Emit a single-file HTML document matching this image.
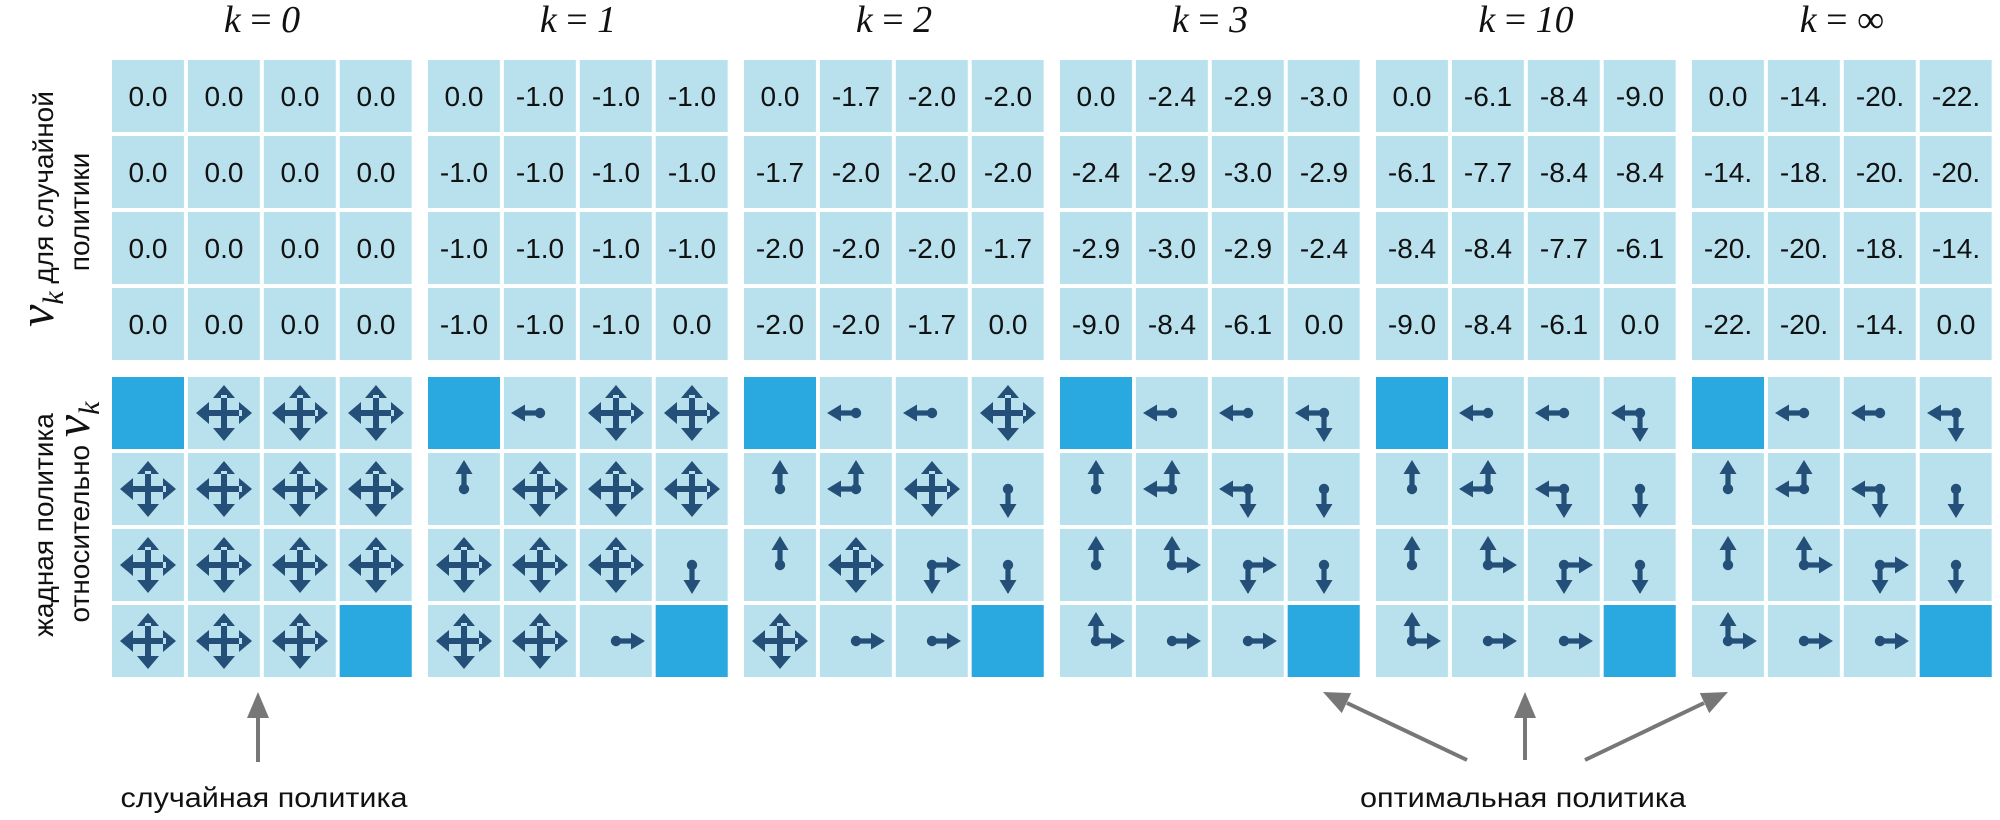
<!DOCTYPE html>
<html><head><meta charset="utf-8"><style>
html,body{margin:0;padding:0;background:#fff;}
svg{display:block;}
.v{font-family:"Liberation Sans",sans-serif;font-size:28px;fill:#111;text-anchor:middle;}
.t{font-family:"Liberation Serif",serif;font-size:38px;fill:#111;text-anchor:middle;}
.lb{font-family:"Liberation Sans","Noto Sans CJK SC",sans-serif;font-size:28px;fill:#111;text-anchor:middle;}
</style></head><body>
<svg width="2000" height="820" viewBox="0 0 2000 820" xmlns="http://www.w3.org/2000/svg">
<defs>
<pattern id="p1" x="0" y="60" width="75.9" height="76" patternUnits="userSpaceOnUse"><rect x="0" y="0" width="72" height="72" fill="#b8e1ed"/></pattern>
<pattern id="p2" x="0" y="377" width="75.9" height="76" patternUnits="userSpaceOnUse"><rect x="0" y="0" width="72" height="72" fill="#b8e1ed"/></pattern>
<g id="hl" fill="#244f78"><path d="M-16,-2.6H0V2.6H-16Z M-29,0 L-15,-8.5 L-15,8.5Z"/></g>
<g id="hr" fill="#244f78"><path d="M16,-2.6H0V2.6H16Z M29,0 L15,-8.5 L15,8.5Z"/></g>
<g id="hu" fill="#244f78"><path d="M-2.6,-16V0H2.6V-16Z M0,-29 L-8.5,-15 L8.5,-15Z"/></g>
<g id="hd" fill="#244f78"><path d="M-2.6,16V0H2.6V16Z M0,29 L-8.5,15 L8.5,15Z"/></g>
<circle id="dt" r="5.2" fill="#244f78"/>
<g id="L"><use href="#hl"/><use href="#dt"/></g>
<g id="R"><use href="#hr"/><use href="#dt"/></g>
<g id="U"><use href="#hu"/><use href="#dt"/></g>
<g id="D"><use href="#hd"/><use href="#dt"/></g>
<g id="LU"><use href="#hl"/><use href="#hu"/><use href="#dt"/></g>
<g id="LD"><use href="#hl"/><use href="#hd"/><use href="#dt"/></g>
<g id="UR"><use href="#hu"/><use href="#hr"/><use href="#dt"/></g>
<g id="RD"><use href="#hr"/><use href="#hd"/><use href="#dt"/></g>
<g id="A" fill="#244f78"><path d="M-18,-3H18V3H-18Z M-3,-18H3V18H-3Z M-28,0L-15,-11L-15,11Z M28,0L15,-11L15,11Z M0,-28L-11,-15L11,-15Z M0,28L-11,15L11,15Z"/></g>
</defs>

<text class="t" x="262" y="32"><tspan font-style="italic">k</tspan> = <tspan font-style="italic">0</tspan></text>
<text class="t" x="578" y="32"><tspan font-style="italic">k</tspan> = <tspan font-style="italic">1</tspan></text>
<text class="t" x="894" y="32"><tspan font-style="italic">k</tspan> = <tspan font-style="italic">2</tspan></text>
<text class="t" x="1210" y="32"><tspan font-style="italic">k</tspan> = <tspan font-style="italic">3</tspan></text>
<text class="t" x="1526" y="32"><tspan font-style="italic">k</tspan> = <tspan font-style="italic">10</tspan></text>
<text class="t" x="1842" y="32"><tspan font-style="italic">k</tspan> = ∞</text>

<text class="lb" transform="translate(53,209) rotate(-90)"><tspan font-family="Liberation Serif,serif" font-style="italic" font-size="50">v</tspan><tspan font-family="Liberation Serif,serif" font-style="italic" font-size="30" dy="10">k</tspan><tspan dy="-10"> для случайной</tspan></text>
<text class="lb" transform="translate(89,212) rotate(-90)">политики</text>
<text class="lb" transform="translate(53,525) rotate(-90)">жадная политика</text>
<text class="lb" transform="translate(89,512) rotate(-90)">относительно <tspan font-family="Liberation Serif,serif" font-style="italic" font-size="50">v</tspan><tspan font-family="Liberation Serif,serif" font-style="italic" font-size="30" dy="10">k</tspan></text>

<g transform="translate(112,0)"><rect x="0" y="60" width="300" height="300" fill="url(#p1)"/><rect x="0" y="377" width="300" height="300" fill="url(#p2)"/></g>
<g transform="translate(428,0)"><rect x="0" y="60" width="300" height="300" fill="url(#p1)"/><rect x="0" y="377" width="300" height="300" fill="url(#p2)"/></g>
<g transform="translate(744,0)"><rect x="0" y="60" width="300" height="300" fill="url(#p1)"/><rect x="0" y="377" width="300" height="300" fill="url(#p2)"/></g>
<g transform="translate(1060,0)"><rect x="0" y="60" width="300" height="300" fill="url(#p1)"/><rect x="0" y="377" width="300" height="300" fill="url(#p2)"/></g>
<g transform="translate(1376,0)"><rect x="0" y="60" width="300" height="300" fill="url(#p1)"/><rect x="0" y="377" width="300" height="300" fill="url(#p2)"/></g>
<g transform="translate(1692,0)"><rect x="0" y="60" width="300" height="300" fill="url(#p1)"/><rect x="0" y="377" width="300" height="300" fill="url(#p2)"/></g>

<g fill="#29a9e0">
<rect x="112" y="377" width="72" height="72"/><rect x="339.7" y="605" width="72" height="72"/>
<rect x="428" y="377" width="72" height="72"/><rect x="655.7" y="605" width="72" height="72"/>
<rect x="744" y="377" width="72" height="72"/><rect x="971.7" y="605" width="72" height="72"/>
<rect x="1060" y="377" width="72" height="72"/><rect x="1287.7" y="605" width="72" height="72"/>
<rect x="1376" y="377" width="72" height="72"/><rect x="1603.7" y="605" width="72" height="72"/>
<rect x="1692" y="377" width="72" height="72"/><rect x="1919.7" y="605" width="72" height="72"/>
</g>

<g class="v" transform="translate(112,0)">
<text x="36" y="106">0.0</text><text x="112" y="106">0.0</text><text x="188" y="106">0.0</text><text x="264" y="106">0.0</text>
<text x="36" y="182">0.0</text><text x="112" y="182">0.0</text><text x="188" y="182">0.0</text><text x="264" y="182">0.0</text>
<text x="36" y="258">0.0</text><text x="112" y="258">0.0</text><text x="188" y="258">0.0</text><text x="264" y="258">0.0</text>
<text x="36" y="334">0.0</text><text x="112" y="334">0.0</text><text x="188" y="334">0.0</text><text x="264" y="334">0.0</text>
</g>
<g class="v" transform="translate(428,0)">
<text x="36" y="106">0.0</text><text x="112" y="106">-1.0</text><text x="188" y="106">-1.0</text><text x="264" y="106">-1.0</text>
<text x="36" y="182">-1.0</text><text x="112" y="182">-1.0</text><text x="188" y="182">-1.0</text><text x="264" y="182">-1.0</text>
<text x="36" y="258">-1.0</text><text x="112" y="258">-1.0</text><text x="188" y="258">-1.0</text><text x="264" y="258">-1.0</text>
<text x="36" y="334">-1.0</text><text x="112" y="334">-1.0</text><text x="188" y="334">-1.0</text><text x="264" y="334">0.0</text>
</g>
<g class="v" transform="translate(744,0)">
<text x="36" y="106">0.0</text><text x="112" y="106">-1.7</text><text x="188" y="106">-2.0</text><text x="264" y="106">-2.0</text>
<text x="36" y="182">-1.7</text><text x="112" y="182">-2.0</text><text x="188" y="182">-2.0</text><text x="264" y="182">-2.0</text>
<text x="36" y="258">-2.0</text><text x="112" y="258">-2.0</text><text x="188" y="258">-2.0</text><text x="264" y="258">-1.7</text>
<text x="36" y="334">-2.0</text><text x="112" y="334">-2.0</text><text x="188" y="334">-1.7</text><text x="264" y="334">0.0</text>
</g>
<g class="v" transform="translate(1060,0)">
<text x="36" y="106">0.0</text><text x="112" y="106">-2.4</text><text x="188" y="106">-2.9</text><text x="264" y="106">-3.0</text>
<text x="36" y="182">-2.4</text><text x="112" y="182">-2.9</text><text x="188" y="182">-3.0</text><text x="264" y="182">-2.9</text>
<text x="36" y="258">-2.9</text><text x="112" y="258">-3.0</text><text x="188" y="258">-2.9</text><text x="264" y="258">-2.4</text>
<text x="36" y="334">-9.0</text><text x="112" y="334">-8.4</text><text x="188" y="334">-6.1</text><text x="264" y="334">0.0</text>
</g>
<g class="v" transform="translate(1376,0)">
<text x="36" y="106">0.0</text><text x="112" y="106">-6.1</text><text x="188" y="106">-8.4</text><text x="264" y="106">-9.0</text>
<text x="36" y="182">-6.1</text><text x="112" y="182">-7.7</text><text x="188" y="182">-8.4</text><text x="264" y="182">-8.4</text>
<text x="36" y="258">-8.4</text><text x="112" y="258">-8.4</text><text x="188" y="258">-7.7</text><text x="264" y="258">-6.1</text>
<text x="36" y="334">-9.0</text><text x="112" y="334">-8.4</text><text x="188" y="334">-6.1</text><text x="264" y="334">0.0</text>
</g>
<g class="v" transform="translate(1692,0)">
<text x="36" y="106">0.0</text><text x="112" y="106">-14.</text><text x="188" y="106">-20.</text><text x="264" y="106">-22.</text>
<text x="36" y="182">-14.</text><text x="112" y="182">-18.</text><text x="188" y="182">-20.</text><text x="264" y="182">-20.</text>
<text x="36" y="258">-20.</text><text x="112" y="258">-20.</text><text x="188" y="258">-18.</text><text x="264" y="258">-14.</text>
<text x="36" y="334">-22.</text><text x="112" y="334">-20.</text><text x="188" y="334">-14.</text><text x="264" y="334">0.0</text>
</g>

<g transform="translate(112,0)">
<use href="#A" x="112" y="413"/><use href="#A" x="188" y="413"/><use href="#A" x="264" y="413"/>
<use href="#A" x="36" y="489"/><use href="#A" x="112" y="489"/><use href="#A" x="188" y="489"/><use href="#A" x="264" y="489"/>
<use href="#A" x="36" y="565"/><use href="#A" x="112" y="565"/><use href="#A" x="188" y="565"/><use href="#A" x="264" y="565"/>
<use href="#A" x="36" y="641"/><use href="#A" x="112" y="641"/><use href="#A" x="188" y="641"/>
</g>
<g transform="translate(428,0)">
<use href="#L" x="112" y="413"/><use href="#A" x="188" y="413"/><use href="#A" x="264" y="413"/>
<use href="#U" x="36" y="489"/><use href="#A" x="112" y="489"/><use href="#A" x="188" y="489"/><use href="#A" x="264" y="489"/>
<use href="#A" x="36" y="565"/><use href="#A" x="112" y="565"/><use href="#A" x="188" y="565"/><use href="#D" x="264" y="565"/>
<use href="#A" x="36" y="641"/><use href="#A" x="112" y="641"/><use href="#R" x="188" y="641"/>
</g>
<g transform="translate(744,0)">
<use href="#L" x="112" y="413"/><use href="#L" x="188" y="413"/><use href="#A" x="264" y="413"/>
<use href="#U" x="36" y="489"/><use href="#LU" x="112" y="489"/><use href="#A" x="188" y="489"/><use href="#D" x="264" y="489"/>
<use href="#U" x="36" y="565"/><use href="#A" x="112" y="565"/><use href="#RD" x="188" y="565"/><use href="#D" x="264" y="565"/>
<use href="#A" x="36" y="641"/><use href="#R" x="112" y="641"/><use href="#R" x="188" y="641"/>
</g>
<g transform="translate(1060,0)">
<use href="#L" x="112" y="413"/><use href="#L" x="188" y="413"/><use href="#LD" x="264" y="413"/>
<use href="#U" x="36" y="489"/><use href="#LU" x="112" y="489"/><use href="#LD" x="188" y="489"/><use href="#D" x="264" y="489"/>
<use href="#U" x="36" y="565"/><use href="#UR" x="112" y="565"/><use href="#RD" x="188" y="565"/><use href="#D" x="264" y="565"/>
<use href="#UR" x="36" y="641"/><use href="#R" x="112" y="641"/><use href="#R" x="188" y="641"/>
</g>
<g transform="translate(1376,0)">
<use href="#L" x="112" y="413"/><use href="#L" x="188" y="413"/><use href="#LD" x="264" y="413"/>
<use href="#U" x="36" y="489"/><use href="#LU" x="112" y="489"/><use href="#LD" x="188" y="489"/><use href="#D" x="264" y="489"/>
<use href="#U" x="36" y="565"/><use href="#UR" x="112" y="565"/><use href="#RD" x="188" y="565"/><use href="#D" x="264" y="565"/>
<use href="#UR" x="36" y="641"/><use href="#R" x="112" y="641"/><use href="#R" x="188" y="641"/>
</g>
<g transform="translate(1692,0)">
<use href="#L" x="112" y="413"/><use href="#L" x="188" y="413"/><use href="#LD" x="264" y="413"/>
<use href="#U" x="36" y="489"/><use href="#LU" x="112" y="489"/><use href="#LD" x="188" y="489"/><use href="#D" x="264" y="489"/>
<use href="#U" x="36" y="565"/><use href="#UR" x="112" y="565"/><use href="#RD" x="188" y="565"/><use href="#D" x="264" y="565"/>
<use href="#UR" x="36" y="641"/><use href="#R" x="112" y="641"/><use href="#R" x="188" y="641"/>
</g>

<g stroke="#777" stroke-width="4" fill="none">
<line x1="258" y1="762" x2="258" y2="714"/>
<line x1="1525" y1="760" x2="1525" y2="714"/>
<line x1="1467" y1="760" x2="1347" y2="703"/>
<line x1="1585" y1="760" x2="1704" y2="703"/>
</g>
<g fill="#777">
<path d="M258,692 L247,718 L269,718Z"/>
<path d="M1525,692 L1514,718 L1536,718Z"/>
<path d="M1323,692 L1351.2,693.1 L1341.8,713.1Z"/>
<path d="M1728,692 L1699.8,693.1 L1709.2,713.1Z"/>
</g>
<text class="lb" x="264" y="807" textLength="287" lengthAdjust="spacingAndGlyphs">случайная политика</text>
<text class="lb" x="1523" y="807" textLength="326" lengthAdjust="spacingAndGlyphs">оптимальная политика</text>
</svg>
</body></html>
